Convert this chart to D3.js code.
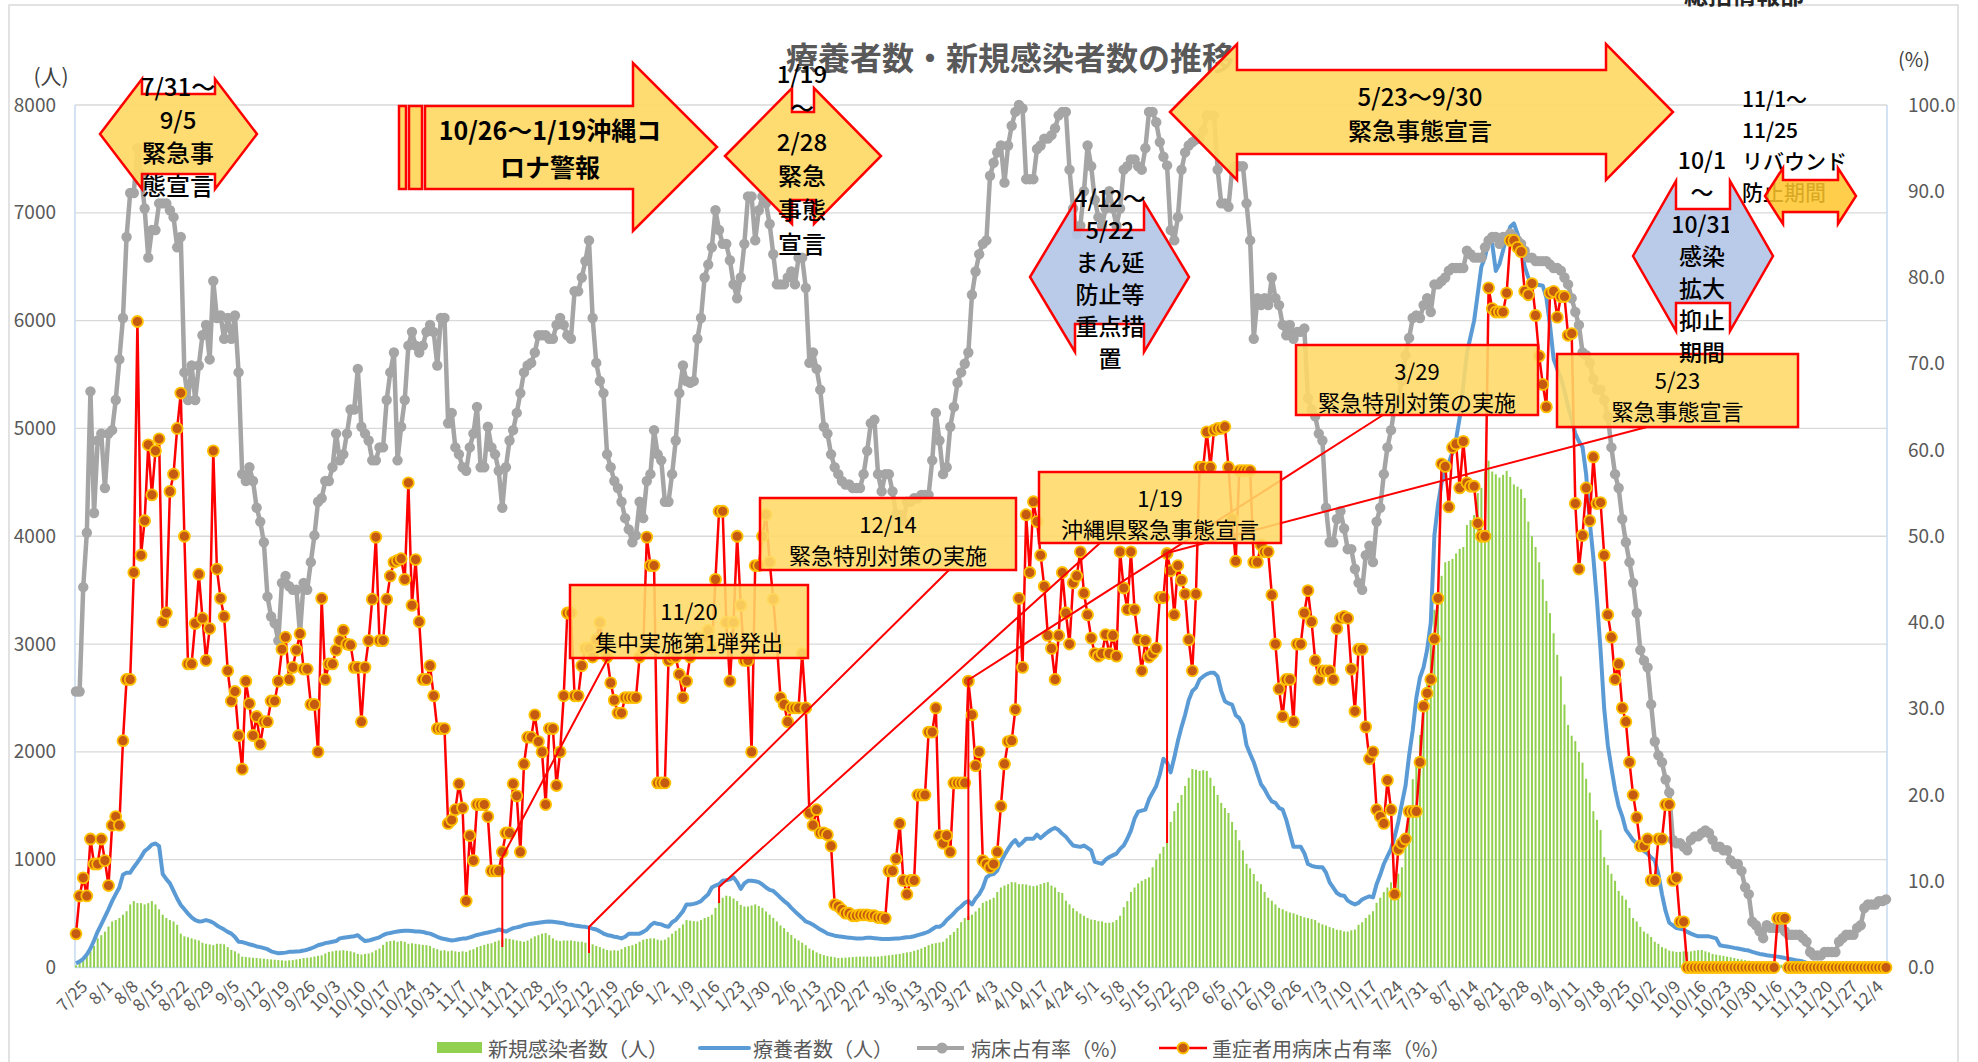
<!DOCTYPE html>
<html>
<head>
<meta charset="utf-8">
<script src="https://cdn.jsdelivr.net/npm/d3@7"></script>
<style>
body { margin: 0; background: #fff; }
svg { display: block; font-family: "Noto Sans CJK JP", "Noto Sans", sans-serif; }
</style>
</head>
<body>
<svg id="chart"></svg>
<script>
//first day of the series (one value per day)
var startDate = new Date(2020, 6, 25);

//新規感染者数（人）
var newCases = [20,40,60,100,150,200,270,300,333,380,
427,440,459,490,522,585,616,597,597,585,
597,616,585,540,490,459,440,427,396,314,
289,280,270,260,251,230,220,214,207,220,
220,215,189,163,150,130,101,98,94,90,
88,84,82,78,75,72,69,66,63,66,
69,75,80,88,90,94,101,108,113,130,
145,150,157,157,160,155,150,140,126,120,
126,130,140,160,176,210,239,245,250,239,
245,239,220,225,220,215,210,207,200,180,
170,157,160,150,157,150,145,150,145,160,
170,189,200,210,220,225,240,251,260,270,
265,258,251,245,239,250,270,289,300,314,
320,300,270,251,245,251,250,251,245,240,
239,230,226,215,200,189,175,163,157,160,
157,170,189,200,207,220,239,258,265,270,
270,258,251,258,280,314,340,365,400,440,
435,430,427,440,459,470,490,553,620,647,
666,660,640,616,580,566,566,575,585,570,
553,520,490,460,427,390,365,330,302,270,
251,230,207,176,160,140,126,115,105,101,
95,88,90,92,94,97,100,101,101,101,
101,101,101,105,110,113,118,122,126,133,
140,145,155,165,176,190,207,220,226,232,
239,270,302,330,365,420,459,480,490,520,
553,600,616,630,647,700,742,760,773,792,
790,773,773,770,760,754,760,773,785,792,
760,742,700,691,620,585,550,522,500,480,
459,445,440,430,427,415,415,420,440,480,
560,616,700,742,780,804,820,836,930,1000,
1056,1120,1182,1350,1450,1527,1600,1684,1760,1841,
1835,1823,1830,1823,1760,1684,1600,1527,1480,1433,
1350,1276,1180,1087,962,920,867,800,773,700,
647,620,585,553,540,522,510,503,490,478,
465,459,450,440,415,400,390,375,365,350,
346,335,333,345,352,396,420,459,490,522,
600,647,700,742,790,804,870,930,1244,1500,
1747,1950,2156,2450,2690,3000,3318,3500,3633,3759,
3770,3790,3840,3884,3900,4104,4150,4198,4400,4450,
4600,4701,4600,4575,4544,4570,4607,4550,4481,4460,
4437,4355,4136,4000,3900,3759,3600,3400,3287,3100,
2900,2700,2439,2250,2150,2100,1999,1900,1750,1622,
1450,1370,1276,1024,950,870,804,710,666,629,
553,459,427,377,333,314,283,239,220,189,
176,157,150,145,145,150,145,150,157,160,
163,150,140,126,120,113,108,101,95,88,
80,75,68,63,55,50,45,40,38,35,
30,25,25,22,20,19,18,17,16,15,
15,14,14,13,13,12,12,12,11,11,
11,11,10,10,10,10,10,10,10,10,
10,10];

//療養者数（人）
var patients = [38,55,80,120,176,250,333,400,470,540,
616,680,742,860,880,880,930,975,1024,1080,
1106,1140,1150,1125,867,820,780,710,640,580,
540,500,465,440,427,430,440,430,415,390,
370,352,330,314,283,239,236,226,215,207,
195,189,180,170,150,140,132,135,138,145,
145,148,151,157,165,176,190,207,215,226,
232,239,245,270,275,280,285,290,300,270,
245,250,260,270,280,300,314,320,328,333,
338,340,340,338,335,333,330,320,314,300,
285,272,265,258,251,255,262,268,270,280,
290,302,310,318,325,333,340,352,345,333,
350,365,372,380,392,400,405,410,415,420,
425,427,425,420,415,410,400,396,390,385,
380,377,370,360,352,335,315,302,295,285,
280,270,285,314,314,314,314,330,352,390,
415,405,400,385,377,420,440,480,522,585,
585,590,600,616,650,679,742,760,773,804,
810,817,836,792,729,780,804,804,800,792,
770,742,720,710,680,647,616,590,553,520,
490,460,427,415,396,375,352,335,314,305,
295,289,285,280,277,273,270,270,272,277,
275,272,268,265,264,264,266,268,270,275,
280,283,290,300,310,320,333,355,377,377,
400,440,470,503,540,566,600,616,585,640,
679,740,836,860,867,900,980,1043,1100,1150,
1182,1131,1160,1194,1194,1194,1232,1200,1230,1257,
1280,1295,1275,1240,1213,1170,1131,1125,1119,1131,
1110,1087,980,970,962,1000,1024,1040,1056,1100,
1131,1194,1270,1380,1446,1455,1464,1560,1622,1684,
1790,1936,1900,1810,1948,2100,2230,2344,2480,2564,
2596,2671,2700,2721,2734,2734,2700,2564,2470,2450,
2439,2340,2313,2250,2061,1980,1904,1800,1700,1653,
1590,1540,1527,1480,1464,1370,1244,1119,1119,1119,
1060,960,943,935,930,930,880,790,740,691,
670,666,620,600,585,600,630,647,660,650,
773,860,960,1030,1100,1213,1350,1520,1684,1967,
2200,2500,2690,2784,2950,3200,4010,4293,4500,4600,
4680,4780,4900,5100,5400,5700,5850,6000,6250,6500,
6587,6744,6713,6461,6524,6650,6775,6870,6901,6807,
6681,6500,6398,6340,6335,6330,6323,6210,5958,5644,
5550,5470,5350,5204,5079,4953,4880,4827,4575,4136,
3800,3400,2941,2400,2061,1850,1650,1496,1402,1276,
1230,1182,1150,1119,1080,1056,1020,993,867,679,
522,415,390,365,358,352,330,314,300,289,
289,289,289,280,270,207,200,195,189,182,
176,170,163,157,145,135,126,120,113,110,
105,101,95,88,82,75,68,63,55,45,
38,25,19,15,12,10,10,10,10,10,
10,10,10,10,10,10,10,10,10,10,
10,10];

//病床占有率（%）
var bedRate = [32.0,32.0,44.1,50.4,66.8,52.7,61.1,61.9,55.6,61.9,
62.3,65.8,70.5,75.3,84.7,89.8,89.8,95.0,92.0,88.0,
82.3,85.5,85.5,88.6,88.6,88.6,87.8,87.0,83.5,84.7,
69.0,65.8,69.8,65.8,69.8,73.3,74.5,70.5,79.6,75.3,
75.6,72.9,75.3,72.9,75.6,69.0,57.2,56.4,58.0,56.4,
53.3,51.7,49.3,43.0,40.7,39.9,37.9,44.6,45.4,44.2,
43.8,43.8,38.7,44.6,43.8,47.0,50.1,54.0,54.4,56.4,
56.4,58.0,61.9,58.8,59.5,61.9,64.7,64.7,69.4,62.7,
61.9,61.1,58.8,58.8,60.3,60.3,65.8,69.0,71.3,58.8,
62.7,65.8,72.1,73.7,72.1,71.3,72.1,73.7,74.5,73.7,
69.8,75.3,75.3,63.1,64.3,60.3,59.5,58.0,57.6,60.3,
61.9,65.0,58.0,58.0,62.7,60.3,59.5,57.6,53.3,58.0,
61.1,62.3,64.3,66.6,69.0,69.8,70.1,71.3,73.3,73.3,
73.3,72.9,72.9,74.5,75.3,74.5,73.3,72.9,78.4,78.4,
80.0,81.9,84.3,75.3,70.1,68.0,66.6,59.5,58.0,56.4,
55.6,54.0,52.1,50.8,49.3,50.1,54.0,52.1,56.4,57.2,
62.3,59.5,58.8,54.0,54.0,57.2,61.1,66.6,69.8,68.0,
67.8,68.0,72.9,75.3,80.0,81.5,83.5,87.8,85.5,83.9,
83.9,82.0,79.2,77.6,80.0,83.9,89.4,89.4,84.3,87.8,
89.4,88.6,86.2,82.7,79.2,79.2,79.2,80.0,80.7,79.2,
82.3,82.3,78.8,70.1,71.3,69.4,67.0,62.7,61.9,59.5,
58.0,57.2,56.4,56.0,56.0,55.6,55.6,55.6,57.2,59.9,
63.1,63.5,57.2,55.2,57.2,57.2,55.2,52.5,52.5,51.7,
54.0,54.0,54.4,54.4,54.8,54.8,54.8,58.8,64.3,61.1,
57.2,58.0,62.7,65.0,67.8,69.0,70.0,71.3,78.0,80.7,
82.7,83.9,84.3,91.8,93.3,94.5,95.3,91.0,95.3,97.6,
99.2,100,99.6,91.4,91.4,91.4,94.9,95.3,96.1,96.1,
96.5,97.3,98.8,99.2,99.2,92.5,88.0,85.0,86.0,90.0,
95.3,92.9,89.0,87.0,86.0,88.0,90.0,88.0,86.0,88.0,
92.5,92.9,93.7,93.7,92.9,92.5,95.0,99.2,99.2,98.0,
95.7,94.0,93.0,85.5,84.3,87.0,92.5,94.5,95.3,95.7,
96.0,96.1,97.0,98.8,98.8,98.8,92.5,88.6,88.6,88.2,
92.5,92.9,92.9,92.9,88.6,84.3,72.9,77.6,76.8,77.6,
76.8,80.0,77.6,76.8,74.5,73.3,74.5,72.9,73.7,73.7,
74.1,66.0,64.7,63.9,61.9,61.1,53.3,49.3,49.3,52.0,
52.9,50.9,48.5,48.5,46.2,44.6,43.8,47.8,48.9,47.0,
51.7,53.3,57.2,60.3,62.3,65.0,65.8,68.0,71.0,73.0,
75.3,75.6,75.3,76.8,77.6,76.0,79.2,79.2,79.6,80.0,
80.8,81.1,81.1,81.1,81.1,83.1,82.7,82.3,82.3,82.3,
83.5,84.3,84.7,84.7,83.9,84.7,84.7,85.1,84.7,84.3,
83.9,83.1,82.3,82.3,81.9,81.9,81.9,81.9,81.5,81.1,
81.1,80.8,80.0,79.2,77.6,76.0,74.5,71.3,71.0,70.1,
68.2,67.0,67.0,65.8,63.9,60.3,57.2,55.6,52.0,49.3,
47.0,44.6,41.1,36.8,35.6,34.8,30.5,26.2,24.6,23.8,
21.8,20.3,14.8,14.4,14.4,14.0,13.6,14.8,15.2,15.2,
15.6,15.9,15.6,14.8,14.0,14.0,13.6,13.6,12.4,12.0,
12.0,11.2,9.3,8.5,5.3,4.9,4.2,3.4,4.9,4.6,
4.6,4.6,4.9,4.2,3.8,3.8,3.8,3.8,3.4,3.0,
1.8,1.4,1.4,1.4,1.8,1.8,1.8,1.8,3.0,3.4,
3.8,3.8,3.8,4.6,4.9,6.9,7.3,7.3,7.3,7.7,
7.7,7.9];

//重症者用病床占有率（%）
var severeRate = [3.9,8.3,10.4,8.3,14.9,12.0,12.0,14.9,12.4,9.5,
16.5,17.5,16.5,26.3,33.4,33.4,45.8,74.9,47.8,51.8,
60.6,54.8,59.9,61.3,40.1,41.1,55.2,57.2,62.5,66.6,
50.0,35.2,35.2,39.9,45.6,40.5,35.6,39.3,59.9,46.2,
42.8,40.7,34.4,30.9,32.0,26.9,23.0,33.2,30.6,26.9,
29.1,25.9,28.5,28.5,30.9,30.9,33.2,36.9,38.3,33.4,
34.8,36.8,38.7,34.6,34.6,30.5,30.5,25.0,42.8,33.4,
35.2,35.2,36.8,37.9,39.1,37.5,37.4,34.8,34.8,28.5,
34.8,37.9,42.7,49.9,37.9,37.9,42.7,45.4,47.0,47.2,
47.4,45.0,56.2,42.0,47.3,40.1,33.4,33.4,35.0,31.5,
27.7,27.7,27.7,16.7,17.1,18.3,21.3,18.5,7.7,15.3,
12.4,18.9,18.9,18.9,17.5,11.2,11.2,11.2,13.4,15.6,
15.6,21.3,19.9,13.4,23.6,26.7,26.7,29.3,26.2,25.0,
18.9,27.7,27.7,21.1,25.0,31.5,41.1,41.1,31.5,31.5,
35.0,37.0,37.0,36.0,38.0,40.0,37.0,36.0,33.0,31.0,
29.5,29.5,31.3,31.3,31.3,31.3,36.0,36.8,49.9,46.6,
46.6,21.4,21.4,21.4,35.6,36.0,36.0,34.0,31.3,33.2,
36.0,37.0,38.3,38.0,38.3,39.1,37.0,45.0,52.9,52.9,
40.0,33.2,40.0,50.0,42.0,35.6,35.6,25.0,46.6,46.6,
50.0,52.5,47.0,42.7,37.5,31.3,30.5,28.5,30.1,30.1,
30.1,36.4,30.1,17.9,16.5,18.3,15.6,15.6,15.4,14.1,
7.3,7.1,6.7,6.3,6.3,6.0,6.0,6.1,6.1,6.1,
6.0,6.0,5.8,5.8,5.7,11.2,11.2,12.6,16.7,10.1,
8.5,10.1,10.1,20.0,20.0,20.0,27.3,27.3,30.1,15.3,
14.4,15.3,13.4,21.4,21.4,21.4,21.4,33.2,29.3,23.4,
25.0,12.4,12.0,11.6,12.0,13.4,18.7,23.6,26.2,26.3,
29.9,42.8,34.8,52.5,45.8,54.0,51.7,47.8,44.2,38.5,
37.0,33.4,38.5,45.8,41.1,37.5,44.6,45.4,48.2,43.4,
40.9,38.2,36.4,36.1,36.4,38.6,36.4,38.5,36.1,48.2,
44.0,41.5,48.2,41.5,38.0,34.4,37.9,36.0,36.4,37.0,
42.9,42.9,48.0,46.0,40.9,46.6,44.9,43.3,38.0,34.4,
43.3,58.0,58.0,62.1,58.0,62.3,62.5,62.5,62.7,58.0,
52.0,47.1,57.6,57.6,57.6,57.6,47.0,47.0,49.0,48.2,
48.2,43.2,37.5,32.3,29.1,33.4,33.4,28.5,37.5,37.5,
41.1,43.7,40.1,35.6,33.4,34.4,34.4,34.4,33.4,39.3,
40.5,40.7,40.5,34.6,29.7,36.9,36.9,27.9,24.2,25.0,
18.3,17.5,16.7,21.7,18.3,8.5,13.7,14.4,14.9,18.1,
18.1,18.1,23.8,30.3,31.8,33.4,38.1,42.8,58.4,58.1,
53.4,60.3,60.7,55.6,61.0,56.2,55.8,55.8,51.5,50.0,
50.0,78.8,76.4,76.0,76.0,76.0,78.2,84.3,84.3,83.5,
83.0,78.4,78.0,79.3,75.6,70.9,67.6,65.0,78.2,78.4,
75.4,77.8,77.8,73.3,73.5,53.8,46.2,50.1,55.6,51.8,
59.2,53.8,53.9,47.8,40.9,38.3,33.4,35.2,30.1,28.5,
23.8,20.0,17.4,14.1,14.1,14.9,10.1,10.1,14.9,14.9,
18.9,18.9,10.1,10.4,5.3,5.3,0,0,0,0,
0,0,0,0,0,0,0,0,0,0,
0,0,0,0,0,0,0,0,0,0,
0,5.7,5.7,5.7,0,0,0,0,0,0,
0,0,0,0,0,0,0,0,0,0,
0,0,0,0,0,0,0,0,0,0,
0,0];

//event callouts: label lines and the date the leader points to
var calloutLabels = [["11/20","集中実施第1弾発出"],["12/14","緊急特別対策の実施"],["1/19","沖縄県緊急事態宣言"],["3/29","緊急特別対策の実施"],["5/23","緊急事態宣言"]];
var calloutDates = [new Date(2020,10,20), new Date(2020,11,14), new Date(2021,0,19), new Date(2021,2,29), new Date(2021,4,23)];

//period arrows texts
var arrowTexts = [
	["7/31〜","9/5","緊急事","態宣言"],
	["10/26〜1/19沖縄コ","ロナ警報"],
	["1/19","〜","2/28","緊急","事態","宣言"],
	["4/12〜","5/22","まん延","防止等","重点措","置"],
	["5/23〜9/30","緊急事態宣言"],
	["10/1","〜","10/31","感染","拡大","抑止","期間"],
	["11/1〜","11/25","リバウンド","防止期間"]
];

var legendLabels = ["新規感染者数（人）","療養者数（人）","病床占有率（%）","重症者用病床占有率（%）"];

//------------------------------------------------------------
var width = 1978, height = 1062;
var plot = { left: 75, right: 1887, top: 105, bottom: 967.5 };
var grey = "#595959";
var yellow = "#ffd966", paleBlue = "#b4c7e7", orange = "#ffc72c";

var svg = d3.select("#chart")
	.attr("width", width)
	.attr("height", height);

var dates = severeRate.map((d, i) => d3.timeDay.offset(startDate, i));
var endDate = d3.timeDay.offset(startDate, 501);

var x = d3.scaleTime()
	.domain([startDate, endDate])
	.range([76, 1886]);

var yL = d3.scaleLinear().domain([0, 8000]).range([plot.bottom, plot.top]);
var yR = d3.scaleLinear().domain([0, 100]).range([plot.bottom, plot.top]);

//chart frame
svg.append("rect")
	.attr("x", 9).attr("y", 5)
	.attr("width", 1949).attr("height", 1080)
	.attr("fill", "none")
	.attr("stroke", "#d9d9d9")
	.attr("stroke-width", 1.5);

//cropped header text at the very top
svg.append("text")
	.attr("x", 1744).attr("y", 4)
	.attr("text-anchor", "middle")
	.attr("font-size", 24).attr("font-weight", 700)
	.attr("fill", "#262626")
	.text("総括情報部");

//gridlines
svg.append("g")
	.selectAll("line")
	.data(d3.range(1000, 8001, 1000))
	.join("line")
		.attr("x1", plot.left).attr("x2", plot.right)
		.attr("y1", d => yL(d)).attr("y2", d => yL(d))
		.attr("stroke", "#d9d9d9")
		.attr("stroke-width", 1.3);

//axis lines
var axisColor = "#c5daf0";
svg.append("line").attr("x1", plot.left).attr("x2", plot.left).attr("y1", plot.top).attr("y2", plot.bottom).attr("stroke", axisColor).attr("stroke-width", 1.5);
svg.append("line").attr("x1", plot.right).attr("x2", plot.right).attr("y1", plot.top).attr("y2", plot.bottom).attr("stroke", axisColor).attr("stroke-width", 1.5);
svg.append("line").attr("x1", plot.left).attr("x2", plot.right).attr("y1", plot.bottom).attr("y2", plot.bottom).attr("stroke", axisColor).attr("stroke-width", 1.5);

//left axis
svg.append("g")
	.attr("transform", `translate(${plot.left},0)`)
	.call(d3.axisLeft(yL).tickValues(d3.range(0, 8001, 1000)).tickFormat(d3.format("d")).tickSize(0).tickPadding(19))
	.call(g => g.select(".domain").remove())
	.attr("font-size", 19)
	.attr("font-family", null)
	.selectAll("text").attr("fill", grey);

//right axis
svg.append("g")
	.attr("transform", `translate(${plot.right},0)`)
	.call(d3.axisRight(yR).tickValues(d3.range(0, 101, 10)).tickFormat(d3.format(".1f")).tickSize(0).tickPadding(21))
	.call(g => g.select(".domain").remove())
	.attr("font-size", 19)
	.attr("font-family", null)
	.selectAll("text").attr("fill", grey);

//x axis, one label per week, rotated
var tickDates = dates.filter((d, i) => i % 7 === 0 && i <= 497);
svg.append("g")
	.attr("transform", `translate(0,${plot.bottom})`)
	.call(d3.axisBottom(x).tickValues(tickDates).tickFormat(d3.timeFormat("%-m/%-d")).tickSize(0))
	.call(g => g.select(".domain").remove())
	.attr("font-size", 17)
	.attr("font-family", null)
	.selectAll("text")
		.attr("fill", grey)
		.attr("x", 0).attr("y", 0)
		.attr("dy", "0.35em")
		.attr("transform", "translate(8,16) rotate(-45)")
		.style("text-anchor", "end");

//unit labels
svg.append("text").attr("x", 51).attr("y", 75).attr("text-anchor", "middle").attr("dominant-baseline", "central").attr("font-size", 21).attr("fill", "#404040").text("(人)");
svg.append("text").attr("x", 1914).attr("y", 58).attr("text-anchor", "middle").attr("dominant-baseline", "central").attr("font-size", 20).attr("fill", "#404040").text("(%)");

//new cases bars
svg.append("g")
	.selectAll("rect")
	.data(newCases)
	.join("rect")
		.attr("x", (d, i) => x(dates[i]) - 1)
		.attr("width", 2)
		.attr("y", d => yL(d))
		.attr("height", d => plot.bottom - yL(d))
		.attr("fill", "#92d050");

//patients line
var lineL = d3.line().x((d, i) => x(dates[i])).y(d => yL(d));
var lineR = d3.line().x((d, i) => x(dates[i])).y(d => yR(d));

svg.append("path")
	.attr("d", lineL(patients))
	.attr("fill", "none")
	.attr("stroke", "#5b9bd5")
	.attr("stroke-width", 4)
	.attr("stroke-linejoin", "round");

//bed occupancy
svg.append("path")
	.attr("d", lineR(bedRate))
	.attr("fill", "none")
	.attr("stroke", "#a5a5a5")
	.attr("stroke-width", 4.5)
	.attr("stroke-linejoin", "round");
svg.append("g")
	.selectAll("circle")
	.data(bedRate)
	.join("circle")
		.attr("cx", (d, i) => x(dates[i]))
		.attr("cy", d => yR(d))
		.attr("r", 5.2)
		.attr("fill", "#a5a5a5");

//severe bed occupancy
svg.append("path")
	.attr("d", lineR(severeRate))
	.attr("fill", "none")
	.attr("stroke", "#ff0000")
	.attr("stroke-width", 2.5)
	.attr("stroke-linejoin", "round");
svg.append("g")
	.selectAll("circle")
	.data(severeRate)
	.join("circle")
		.attr("cx", (d, i) => x(dates[i]))
		.attr("cy", d => yR(d))
		.attr("r", 5.5)
		.attr("fill", "#c55a11")
		.attr("stroke", "#ffc000")
		.attr("stroke-width", 1.8);

//title
svg.append("text")
	.attr("x", 1010).attr("y", 56)
	.attr("text-anchor", "middle")
	.attr("dominant-baseline", "central")
	.attr("font-size", 32).attr("font-weight", 700)
	.attr("fill", grey)
	.text("療養者数・新規感染者数の推移");

//legend
var lg = svg.append("g").attr("font-size", 20).attr("fill", grey);
var ly = 1048;
lg.append("rect").attr("x", 437).attr("y", ly - 6).attr("width", 45).attr("height", 11).attr("fill", "#92d050");
lg.append("text").attr("x", 488).attr("y", ly).attr("dominant-baseline", "central").text(legendLabels[0]);
lg.append("line").attr("x1", 700).attr("x2", 749).attr("y1", ly).attr("y2", ly).attr("stroke", "#5b9bd5").attr("stroke-width", 4).attr("stroke-linecap", "round");
lg.append("text").attr("x", 753).attr("y", ly).attr("dominant-baseline", "central").text(legendLabels[1]);
lg.append("line").attr("x1", 917).attr("x2", 964).attr("y1", ly).attr("y2", ly).attr("stroke", "#a5a5a5").attr("stroke-width", 4);
lg.append("circle").attr("cx", 942).attr("cy", ly).attr("r", 5.5).attr("fill", "#a5a5a5");
lg.append("text").attr("x", 971).attr("y", ly).attr("dominant-baseline", "central").text(legendLabels[2]);
lg.append("line").attr("x1", 1159).attr("x2", 1207).attr("y1", ly).attr("y2", ly).attr("stroke", "#ff0000").attr("stroke-width", 2.5);
lg.append("circle").attr("cx", 1183).attr("cy", ly).attr("r", 5.5).attr("fill", "#c55a11").attr("stroke", "#ffc000").attr("stroke-width", 1.8);
lg.append("text").attr("x", 1212).attr("y", ly).attr("dominant-baseline", "central").text(legendLabels[3]);

//callout boxes with leader lines
var boxes = [
	{ x: 570, y: 585, w: 238, h: 73, ax: 608, ay: 658, ky: 857, ey: 947 },
	{ x: 760, y: 498, w: 256, h: 72, ax: 950, ay: 569, ky: 927, ey: 953 },
	{ x: 1039, y: 472, w: 242, h: 71, ax: 1100, ay: 543, ky: 887, ey: 903 },
	{ x: 1296, y: 345, w: 242, h: 70, ax: 1383, ay: 415, ky: 680, ey: 920 },
	{ x: 1557, y: 354, w: 241, h: 73, ax: 1647, ay: 427, ky: 553, ey: 843 }
];

svg.append("g")
	.selectAll("polyline")
	.data(boxes)
	.join("polyline")
		.attr("points", (b, i) => {
			var xd = x(calloutDates[i]);
			return `${b.ax},${b.ay} ${xd},${b.ky} ${xd},${b.ey}`;
		})
		.attr("fill", "none")
		.attr("stroke", "#ff0000")
		.attr("stroke-width", 2);

var boxG = svg.append("g")
	.selectAll("g")
	.data(boxes)
	.join("g");
boxG.append("rect")
	.attr("x", b => b.x).attr("y", b => b.y)
	.attr("width", b => b.w).attr("height", b => b.h)
	.attr("fill", yellow).attr("fill-opacity", 0.88)
	.attr("stroke", "#ff0000").attr("stroke-width", 2.5);
boxG.each(function(b, i) {
	var g = d3.select(this);
	calloutLabels[i].forEach(function(t, k) {
		g.append("text")
			.attr("x", b.x + b.w / 2)
			.attr("y", b.y + (k === 0 ? 25 : 56))
			.attr("text-anchor", "middle")
			.attr("dominant-baseline", "central")
			.attr("font-size", 22)
			.attr("fill", "#000")
			.text(t);
	});
});

//arrow shape helpers
function bothArrow(a) {
	var l = a.x1 + a.hl, r = a.x2 - a.hl, c = a.cy;
	return `M${a.x1},${c} L${l},${c - a.hh} L${l},${c - a.sh} L${r},${c - a.sh} L${r},${c - a.hh} L${a.x2},${c} ` +
		`L${r},${c + a.hh} L${r},${c + a.sh} L${l},${c + a.sh} L${l},${c + a.hh} Z`;
}

var arrows = [
	{ x1: 100, x2: 257, cy: 134, hh: 55, sh: 40, hl: 42, fill: yellow },
	null,
	{ x1: 725, x2: 881, cy: 156, hh: 68, sh: 44, hl: 67, fill: yellow },
	{ x1: 1030, x2: 1189, cy: 277, hh: 75, sh: 47, hl: 45, fill: paleBlue },
	{ x1: 1170, x2: 1673, cy: 112, hh: 68, sh: 42, hl: 67, fill: yellow },
	{ x1: 1633, x2: 1773, cy: 256, hh: 75, sh: 47, hl: 43, fill: paleBlue },
	{ x1: 1765, x2: 1856, cy: 196, hh: 28, sh: 16, hl: 18, fill: orange }
];

var textPos = [
	{ x: 178, y: 85, step: 33, size: 24 },
	{ x: 550, y: 129, step: 37, size: 25, weight: 700 },
	{ x: 802, y: 72, step: 34, size: 24 },
	{ x: 1110, y: 197, step: 32, size: 23 },
	{ x: 1420, y: 95, step: 34, size: 24 },
	{ x: 1702, y: 159, step: 32, size: 23, clip: true },
	{ x: 1742, y: 98, step: 31, size: 21, anchor: "start" }
];

svg.append("defs").append("clipPath").attr("id", "clipF")
	.append("rect").attr("x", 1600).attr("y", 100).attr("width", 129).attr("height", 300);

var annot = svg.append("g");

function drawTexts(i) {
	var p = textPos[i];
	var g = annot.append("g");
	if (p.clip) g.attr("clip-path", "url(#clipF)");
	arrowTexts[i].forEach(function(t, k) {
		g.append("text")
			.attr("x", p.x)
			.attr("y", p.y + k * p.step)
			.attr("text-anchor", p.anchor || "middle")
			.attr("dominant-baseline", "central")
			.attr("font-size", p.size)
			.attr("font-weight", p.weight || 500)
			.attr("fill", "#000")
			.text(t);
	});
}

arrows.forEach(function(a, i) {
	if (i === 1) {
		//striped right arrow
		[[399, 7], [409, 13]].forEach(function(s) {
			annot.append("rect")
				.attr("x", s[0]).attr("y", 106).attr("width", s[1]).attr("height", 83)
				.attr("fill", yellow).attr("stroke", "#ff0000").attr("stroke-width", 2.5);
		});
		annot.append("path")
			.attr("d", "M425,106 L633,106 L633,63 L717,147 L633,231 L633,189 L425,189 Z")
			.attr("fill", yellow).attr("fill-opacity", 0.92)
			.attr("stroke", "#ff0000").attr("stroke-width", 2.5);
		drawTexts(i);
		return;
	}
	if (i === 6) {
		//text sits behind this small arrow
		drawTexts(i);
		annot.append("path")
			.attr("d", bothArrow(a))
			.attr("fill", a.fill).attr("fill-opacity", 0.85)
			.attr("stroke", "#ff0000").attr("stroke-width", 2.5);
		return;
	}
	annot.append("path")
		.attr("d", bothArrow(a))
		.attr("fill", a.fill).attr("fill-opacity", 0.92)
		.attr("stroke", "#ff0000").attr("stroke-width", 2.5);
	drawTexts(i);
});
</script>
</body>
</html>
